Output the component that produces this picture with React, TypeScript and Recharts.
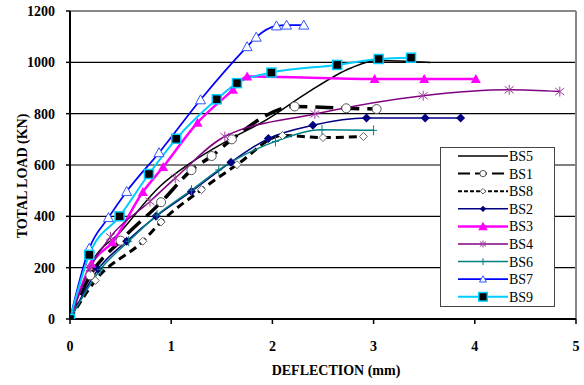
import { LineChart, Line, XAxis, YAxis, ReferenceLine, Label } from "recharts";

// deflection (mm) / total load (kN)
const BS5_DEFL = [0, 0.2, 0.5, 0.89, 1.2, 1.58, 1.94, 2.34, 2.77, 3.03, 3.56];
const BS5_LOAD = [0, 210, 340, 517, 610, 700, 776, 880, 977, 1007, 999];

const BS1_DEFL = [0, 0.2, 0.5, 0.9, 1.2, 1.4, 1.6, 2.22, 2.73, 3.03];
const BS1_LOAD = [0, 170, 305, 455, 580, 635, 700, 828, 821, 818];

const BS8_DEFL = [0, 0.25, 0.72, 0.9, 1.3, 1.65, 2.1, 2.5, 2.9];
const BS8_LOAD = [0, 150, 303, 378, 504, 601, 715, 707, 711];

const BS2_DEFL = [0, 0.28, 0.56, 0.85, 1.2, 1.59, 1.96, 2.4, 2.93, 3.51, 3.86];
const BS2_LOAD = [0, 195, 303, 400, 497, 611, 703, 755, 783, 783, 783];

const BS3_DEFL = [0, 0.21, 0.42, 0.72, 0.92, 1.26, 1.61, 1.75, 3.01, 3.5, 4.01];
const BS3_LOAD = [0, 215, 299, 495, 592, 765, 893, 945, 935, 935, 935];

const BS4_DEFL = [0, 0.2, 0.4, 0.79, 1.04, 1.53, 2.42, 3.49, 4.34, 4.84];
const BS4_LOAD = [0, 200, 320, 458, 549, 711, 799, 870, 893, 886];

const BS6_DEFL = [0, 0.3, 0.58, 0.86, 1.2, 1.47, 2.03, 2.49, 3.0];
const BS6_LOAD = [0, 193, 303, 405, 502, 581, 692, 737, 735];

const BS7_DEFL = [0, 0.19, 0.38, 0.56, 0.88, 1.29, 1.75, 1.84, 2.04, 2.14, 2.31];
const BS7_LOAD = [0, 275, 395, 497, 648, 854, 1061, 1098, 1142, 1145, 1145];

const BS9_DEFL = [0, 0.19, 0.49, 0.78, 1.05, 1.45, 1.65, 1.99, 2.64, 3.05, 3.37];
const BS9_LOAD = [0, 250, 400, 565, 702, 856, 919, 960, 990, 1013, 1018];

const X_TICKS = [0, 1, 2, 3, 4, 5];
const Y_TICKS = [0, 200, 400, 600, 800, 1000, 1200];
const GRID_LOADS = [200, 400, 600, 800, 1000];

const FONT = '"Liberation Serif", "Times New Roman", serif';

type Kind = "none" | "circle" | "diamondOpen" | "diamond" | "triangle" | "asterisk" | "plus" | "triangleOpen" | "square";

type Series = {
  name: string;
  defl: number[];
  load: number[];
  color: string;
  width: number;
  dash?: string;
  marker: Kind;
};

const SERIES: Series[] = [
  { name: "BS5", defl: BS5_DEFL, load: BS5_LOAD, color: "#000000", width: 1.5, marker: "none" },
  { name: "BS1", defl: BS1_DEFL, load: BS1_LOAD, color: "#000000", width: 3.5, dash: "18 8", marker: "circle" },
  { name: "BS8", defl: BS8_DEFL, load: BS8_LOAD, color: "#000000", width: 3, dash: "8 5", marker: "diamondOpen" },
  { name: "BS2", defl: BS2_DEFL, load: BS2_LOAD, color: "#000080", width: 1.5, marker: "diamond" },
  { name: "BS3", defl: BS3_DEFL, load: BS3_LOAD, color: "#ff00ff", width: 2.5, marker: "triangle" },
  { name: "BS4", defl: BS4_DEFL, load: BS4_LOAD, color: "#800080", width: 1.5, marker: "asterisk" },
  { name: "BS6", defl: BS6_DEFL, load: BS6_LOAD, color: "#008080", width: 1.5, marker: "plus" },
  { name: "BS7", defl: BS7_DEFL, load: BS7_LOAD, color: "#0000ff", width: 1.75, marker: "triangleOpen" },
  { name: "BS9", defl: BS9_DEFL, load: BS9_LOAD, color: "#00ccff", width: 2, marker: "square" },
];

function Marker({ kind, cx, cy, s = 1 }: { kind: Kind; cx: number; cy: number; s?: number }) {
  switch (kind) {
    case "circle":
      return <circle cx={cx} cy={cy} r={4.5 * s} fill="#fff" stroke="#555" strokeWidth={1} />;
    case "diamondOpen": {
      const h = 4 * s;
      return (
        <polygon
          points={`${cx},${cy - h} ${cx + h},${cy} ${cx},${cy + h} ${cx - h},${cy}`}
          fill="#fff"
          stroke="#666"
          strokeWidth={1}
        />
      );
    }
    case "diamond": {
      const h = 4.5 * s;
      return <polygon points={`${cx},${cy - h} ${cx + h},${cy} ${cx},${cy + h} ${cx - h},${cy}`} fill="#000080" />;
    }
    case "triangle":
      return (
        <polygon
          points={`${cx},${cy - 5 * s} ${cx + 5 * s},${cy + 4 * s} ${cx - 5 * s},${cy + 4 * s}`}
          fill="#ff00ff"
        />
      );
    case "triangleOpen":
      return (
        <polygon
          points={`${cx},${cy - 5 * s} ${cx + 5 * s},${cy + 4 * s} ${cx - 5 * s},${cy + 4 * s}`}
          fill="#fff"
          stroke="#3355ff"
          strokeWidth={1}
        />
      );
    case "asterisk":
      return (
        <g stroke="#a040a0" strokeWidth={1}>
          <line x1={cx - 4.5 * s} y1={cy - 3.5 * s} x2={cx + 4.5 * s} y2={cy + 3.5 * s} />
          <line x1={cx - 4.5 * s} y1={cy + 3.5 * s} x2={cx + 4.5 * s} y2={cy - 3.5 * s} />
          <line x1={cx} y1={cy - 5 * s} x2={cx} y2={cy + 5 * s} />
        </g>
      );
    case "plus":
      return (
        <g stroke="#008080" strokeWidth={1}>
          <line x1={cx} y1={cy - 5 * s} x2={cx} y2={cy + 5 * s} />
          <line x1={cx - 3.5 * s} y1={cy} x2={cx + 3.5 * s} y2={cy} />
        </g>
      );
    case "square":
      return <rect x={cx - 4.5 * s} y={cy - 4.5 * s} width={9 * s} height={9 * s} fill="#000" stroke="#00ccff" strokeWidth={1.5} />;
    default:
      return null;
  }
}

function LegendBox() {
  return (
    <svg width={115} height={160} style={{ display: "block" }}>
      <rect x={0.5} y={0.5} width={114} height={159} fill="#fff" stroke="#444" strokeWidth={1} />
      {SERIES.map((s, i) => {
        const y = 9 + i * 17.6;
        return (
          <g key={s.name}>
            <line
              x1={18}
              x2={68}
              y1={y}
              y2={y}
              stroke={s.color}
              strokeWidth={s.dash ? 2 : Math.min(s.width, 2.5)}
              strokeDasharray={s.name === "BS1" ? "12 5" : s.name === "BS8" ? "4 2" : undefined}
            />
            <Marker kind={s.marker} cx={43} cy={y} s={s.marker === "square" || s.marker === "triangle" ? 0.95 : 0.7} />
            <text x={69} y={y + 5} fontFamily={FONT} fontSize={14} fill="#000">
              {s.name}
            </text>
          </g>
        );
      })}
    </svg>
  );
}

export default function App() {
  return (
    <div style={{ position: "absolute", left: 0, top: 0, width: 584, height: 385, background: "#fff" }}>
      <LineChart width={584} height={385} margin={{ top: 11, right: 8, left: 0, bottom: 0 }}>
        <XAxis
          dataKey="x"
          type="number"
          domain={[0, 5]}
          ticks={X_TICKS}
          height={66}
          allowDataOverflow
          axisLine={{ stroke: "#000", strokeWidth: 2 }}
          tickLine={{ stroke: "#000", strokeWidth: 1.5 }}
          tickSize={5}
          tickMargin={17}
          tick={{ fontFamily: FONT, fontSize: 14, fontWeight: "bold", fill: "#000" }}
        >
          <Label
            content={() => (
              <text x={336} y={375} textAnchor="middle" fontFamily={FONT} fontSize={14} fontWeight="bold" fill="#000">
                DEFLECTION (mm)
              </text>
            )}
          />
        </XAxis>
        <YAxis
          type="number"
          domain={[0, 1200]}
          ticks={Y_TICKS}
          width={70}
          allowDataOverflow
          axisLine={{ stroke: "#000", strokeWidth: 2 }}
          tickLine={{ stroke: "#000", strokeWidth: 1.5 }}
          tickSize={4}
          tickMargin={11}
          tick={{ fontFamily: FONT, fontSize: 14, fontWeight: "bold", fill: "#000" }}
        >
          <Label
            content={() => (
              <text
                x={22}
                y={176}
                transform="rotate(-90 22 176)"
                textAnchor="middle"
                dominantBaseline="central"
                fontFamily={FONT}
                fontSize={14}
                fontWeight="bold"
                fill="#000"
              >
                TOTAL LOAD (KN)
              </text>
            )}
          />
        </YAxis>
        {GRID_LOADS.map((v) => (
          <ReferenceLine key={v} y={v} stroke="#000" strokeWidth={1.2} />
        ))}
        <ReferenceLine y={1200} stroke="#888" strokeWidth={2} />
        <ReferenceLine x={5} stroke="#888" strokeWidth={2} />
        {SERIES.map((s) => (
          <Line
            key={s.name}
            name={s.name}
            data={s.defl.map((x, i) => ({ x, y: s.load[i] }))}
            dataKey="y"
            type="monotone"
            stroke={s.color}
            strokeWidth={s.width}
            strokeDasharray={s.dash}
            isAnimationActive={false}
            activeDot={false}
            dot={(p: any) => (
              <g key={`${s.name}-${p.index}`}>
                <Marker kind={s.marker} cx={p.cx} cy={p.cy} />
              </g>
            )}
          />
        ))}
      </LineChart>
      <div style={{ position: "absolute", left: 440, top: 147 }}>
        <LegendBox />
      </div>
    </div>
  );
}
